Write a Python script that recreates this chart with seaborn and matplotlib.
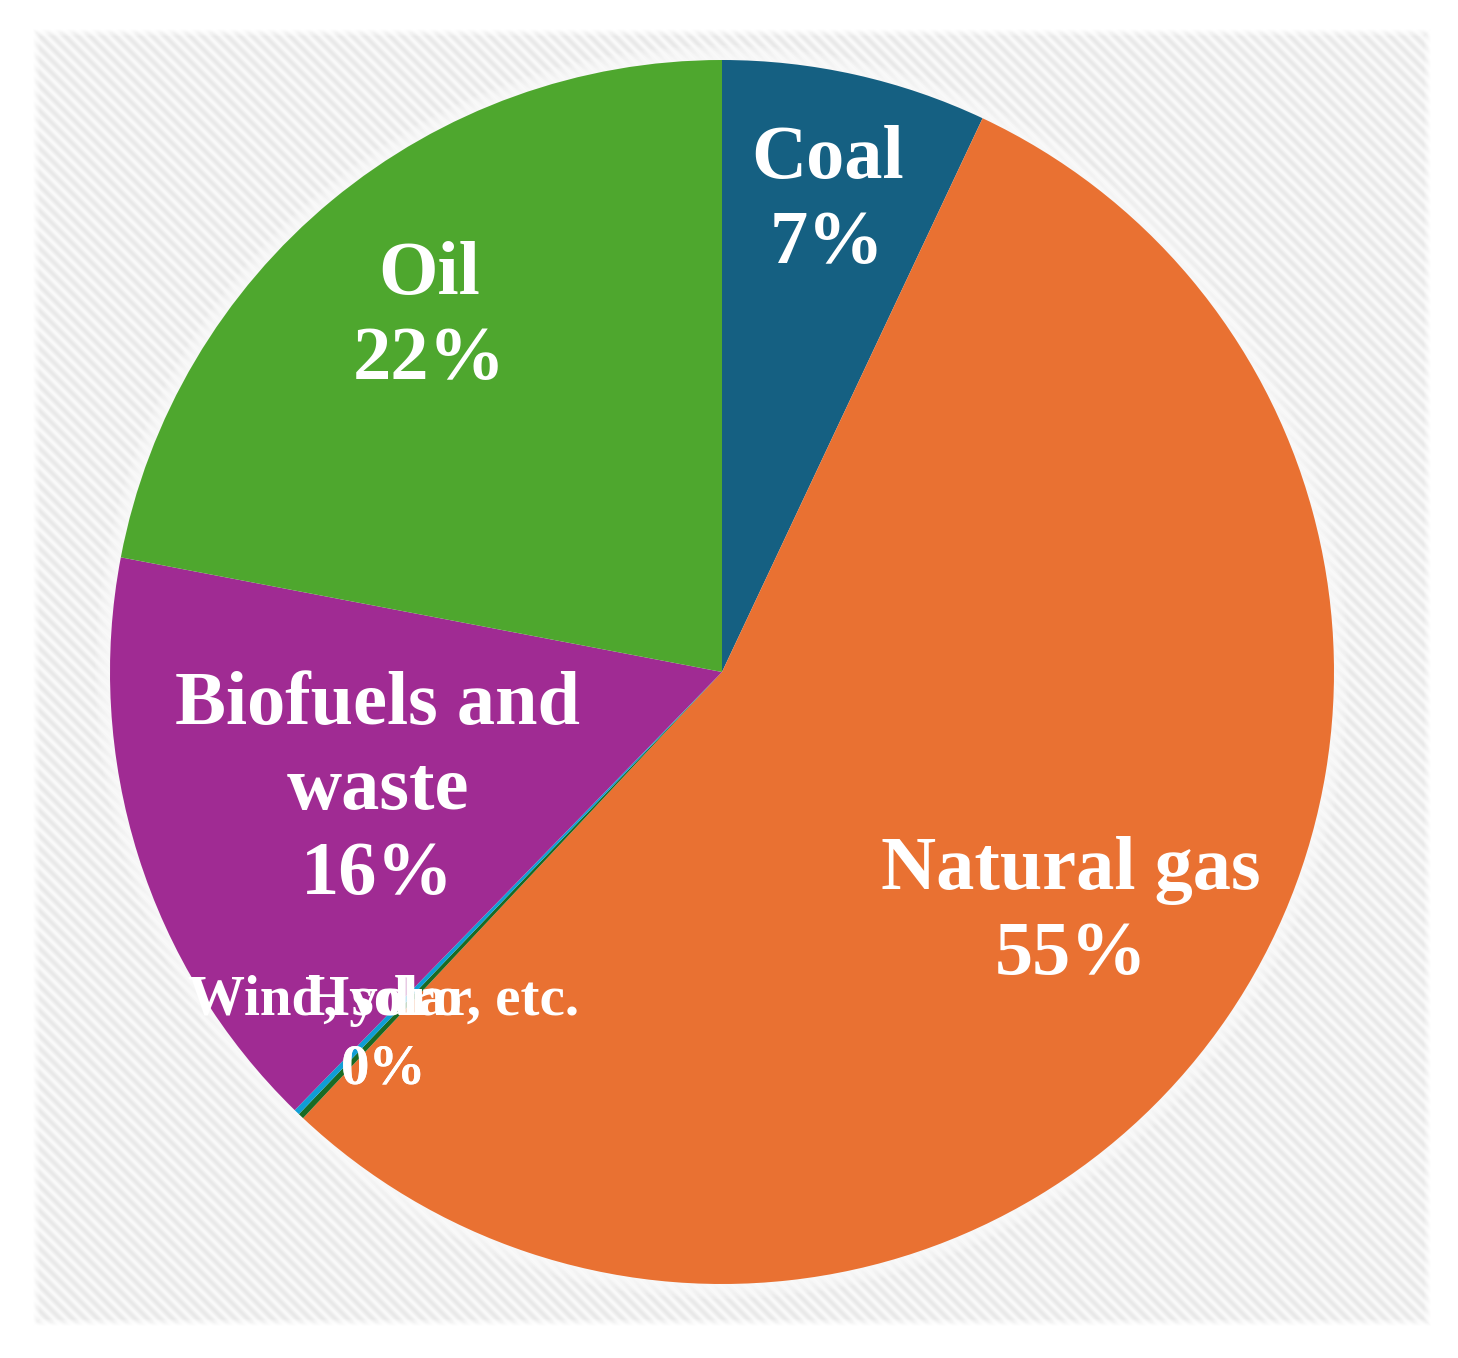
import numpy as np
import matplotlib
matplotlib.use("Agg")
import matplotlib.pyplot as plt
import seaborn as sns
from matplotlib.patches import Circle

# slices, clockwise from 12 o'clock
sources = ["Coal", "Natural gas", "Hydro", "Wind, solar, etc.", "Biofuels and\nwaste", "Oil"]
shares = [7.0, 55.0, 0.15, 0.15, 15.7, 22.0]
pct_text = ["7%", "55%", "0%", "0%", "16%", "22%"]
colors = ["#156082", "#E97132", "#196B24", "#0F9ED5", "#A02B93", "#4EA72E"]

sns.set_style("white")
plt.rcParams['font.family'] = ['Liberation Serif', 'DejaVu Serif']

W, H, DPI = 1458, 1358, 100
fig = plt.figure(figsize=(W / DPI, H / DPI), dpi=DPI)
fig.patch.set_facecolor("white")

# striped grey panel behind the pie
px0, py0, px1, py1 = 32, 28, 1432, 1327
bg = fig.add_axes([px0 / W, 1 - py1 / H, (px1 - px0) / W, (py1 - py0) / H])
rows, cols = np.mgrid[0:py1 - py0, 0:px1 - px0]
stripe = 0.5 + 0.5 * np.cos(2 * np.pi * (cols - rows) / 12.5)
img = 0.975 - 0.065 * stripe
edge = np.minimum.reduce([rows, cols, rows[::-1], cols[:, ::-1]]).astype(float)
fade = np.clip(edge / 8.0, 0, 1)
img = 1 - (1 - img) * fade
bg.imshow(img, cmap="gray", vmin=0, vmax=1, aspect="auto", interpolation="nearest")
bg.axis("off")

# pie axes, centred at (722, 672) px, radius 612 px
cx, cy, R = 722, 672, 612
half = 640
ax = fig.add_axes([(cx - half) / W, 1 - (cy + half) / H, 2 * half / W, 2 * half / H])

# faint light glow round the pie
for i in range(10):
    ax.add_patch(Circle((0, 0), 1.0 + 0.0025 * (i + 1), color="white",
                        alpha=0.12, lw=0, zorder=0, clip_on=False))

wedges, _ = ax.pie(shares, colors=sns.color_palette(colors), startangle=90,
                   counterclock=False, radius=1.0,
                   wedgeprops=dict(linewidth=0, zorder=1))
lim = half / R
ax.set_xlim(-lim, lim)
ax.set_ylim(-lim, lim)
ax.axis("off")

# label radius and a small vertical nudge (axes units)
label_pos = {"Coal": (0.787, 0.0), "Natural gas": (0.69, -0.006),
             "Biofuels and\nwaste": (0.59, -0.016), "Oil": (0.75, 0.0)}
tiny_mid = np.deg2rad((wedges[2].theta1 + wedges[3].theta2) / 2)
for w, name, pct in zip(wedges, sources, pct_text):
    mid = np.deg2rad((w.theta1 + w.theta2) / 2)
    if name in ("Hydro", "Wind, solar, etc."):
        # both tiny slices get their label at the same spot, as in the original
        x, y = 0.80 * np.cos(tiny_mid), 0.80 * np.sin(tiny_mid) - 0.015
        ax.text(x, y, name + "\n" + pct, ha="center", va="center", color="white",
                fontsize=41, fontweight="bold", linespacing=1.42, zorder=5)
    else:
        r, dy = label_pos[name]
        x, y = r * np.cos(mid), r * np.sin(mid) + dy
        ax.text(x, y, name + "\n" + pct, ha="center", va="center", color="white",
                fontsize=55, fontweight="bold", linespacing=1.3, zorder=5)

fig.savefig("out.png", dpi=DPI)
